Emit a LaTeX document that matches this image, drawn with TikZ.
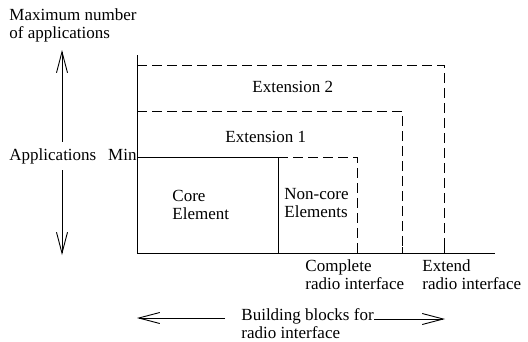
\documentclass[tikz,border=0pt]{standalone}
\usepackage{fontspec}
\setmainfont{Liberation Serif}
\usetikzlibrary{arrows.meta}

\begin{document}
\begin{tikzpicture}[x=1pt,y=-1pt,line width=.9pt,
  lbl/.style={inner sep=0pt,align=left,anchor=base west,
    font=\fontsize{17}{17.5}\selectfont},
  dline/.style={dash pattern=on 10pt off 5pt},
  arr/.style={-{Straight Barb[length=21pt,width=11pt,line width=.9pt]}}]
\useasboundingbox (0,0) rectangle (528,341);
\pgfmathsetmacro{\xa}{137}
\pgfmathsetmacro{\ya}{253}
\pgfmathsetmacro{\ymin}{157}
\node[lbl] (maxapp) at (9,38) {Maximum number\\of applications};
\node[lbl,inner sep=6pt,anchor=base west] (appl) at (3,160) {Applications};
\node[lbl,anchor=base east] (min) at (\xa,160) {Min};
\coordinate (vtop) at (62,50);
\coordinate (vbot) at (62,255);
\draw[arr] (vtop |- appl.north) -- (vtop);
\draw[arr] (vbot |- appl.south) -- (vbot);
\draw (\xa,55) -- (\xa,\ya) -- (495,\ya);
\draw (\xa,\ymin) rectangle (278,\ya);
\draw[dline] (278,\ymin) -- (357,\ymin) -- (357,\ya);
\draw[dline] (\xa,111) -- (402,111) -- (402,\ya);
\draw[dline] (\xa,65) -- (444,65) -- (444,\ya);
\foreach \t in {357,402,444}
  \draw (\t,\ya) -- ++(0,-6);
\node[lbl] (ext2) at (252,92) {Extension 2};
\node[lbl] (ext1) at (225,142) {Extension 1};
\node[lbl] (core) at (172,219) {Core\\Element};
\node[lbl] (noncore) at (284,217) {Non-core\\Elements};
\node[lbl] (compl) at (305,289) {Complete\\radio interface};
\node[lbl] (extd) at (422,289) {Extend\\radio interface};
\node[lbl] (blocks) at (241,338) {Building blocks for\\radio interface};
\coordinate (la) at (225,318);
\coordinate (lb) at (137,318);
\coordinate (ra) at (374,319);
\coordinate (rb) at (445,319);
\draw[arr] (la) -- (lb);
\draw[arr] (ra) -- (rb);
\end{tikzpicture}
\end{document}
